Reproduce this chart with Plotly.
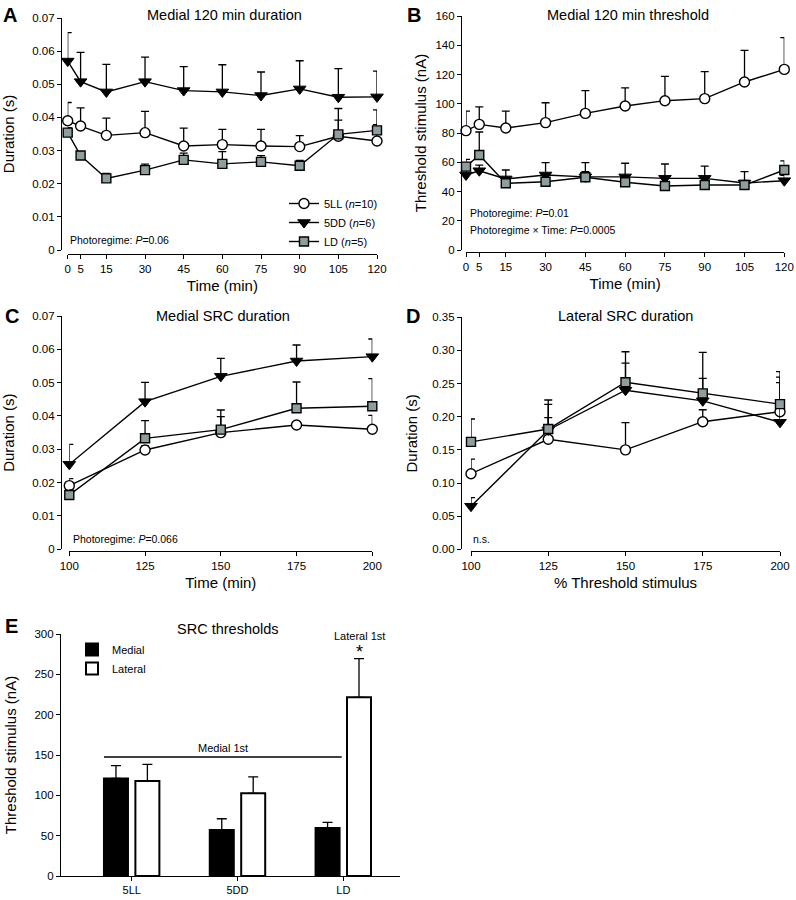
import plotly.graph_objects as go

# ---------------- data ----------------
time_min = [0, 5, 15, 30, 45, 60, 75, 90, 105, 120]
time_ticks = [0, 5, 15, 30, 45, 60, 75, 90, 105, 120]

# A: Medial 120 min duration (s)
a_5LL = [0.0390, 0.0374, 0.0346, 0.0354, 0.0314, 0.0318, 0.0314, 0.0312, 0.0343, 0.0329]
a_5LL_err = [0.0055, 0.0055, 0.0052, 0.0064, 0.0054, 0.0046, 0.0050, 0.0033, 0.0049, 0.0049]
a_5DD = [0.0570, 0.0508, 0.0477, 0.0508, 0.0481, 0.0477, 0.0466, 0.0486, 0.0461, 0.0462]
a_5DD_err = [0.0086, 0.0088, 0.0083, 0.0074, 0.0072, 0.0082, 0.0071, 0.0085, 0.0086, 0.0078]
a_LD = [0.0354, 0.0285, 0.0216, 0.0241, 0.0272, 0.0260, 0.0266, 0.0254, 0.0349, 0.0361]
a_LD_err = [0.0015, 0.0012, 0.0015, 0.0018, 0.0020, 0.0037, 0.0019, 0.0016, 0.0078, 0.0062]

# B: Medial 120 min threshold (nA)
b_5LL = [81.6, 85.9, 83.4, 87.1, 93.4, 98.5, 102.1, 103.5, 114.9, 123.5]
b_5LL_err = [13.4, 11.9, 11.6, 13.6, 15.6, 12.3, 16.6, 18.4, 21.6, 21.7]
b_5DD = [51.3, 54.2, 48.6, 51.3, 50.0, 50.0, 49.0, 49.0, 45.8, 47.4]
b_5DD_err = [3.9, 3.8, 6.1, 8.4, 9.7, 9.3, 9.8, 8.4, 7.8, 3.6]
b_LD = [57.0, 65.0, 45.6, 46.7, 49.7, 46.3, 43.8, 44.4, 44.4, 54.7]
b_LD_err = [5.0, 15.7, 2.4, 2.3, 3.9, 2.7, 2.2, 2.6, 2.6, 6.3]

# C: Medial SRC duration (s)
src_x = [100, 125, 150, 175, 200]
c_5LL = [0.0191, 0.0298, 0.0350, 0.0373, 0.0360]
c_5LL_err = [0.0021, 0.0012, 0.0048, 0.0010, 0.0042]
c_5DD = [0.0255, 0.0443, 0.0519, 0.0565, 0.0578]
c_5DD_err = [0.0060, 0.0058, 0.0054, 0.0048, 0.0053]
c_LD = [0.0163, 0.0333, 0.0359, 0.0423, 0.0429]
c_LD_err = [0.0015, 0.0053, 0.0059, 0.0079, 0.0083]

# D: Lateral SRC duration (s)
d_5LL = [0.114, 0.166, 0.150, 0.1925, 0.2076]
d_5LL_err = [0.022, 0.0325, 0.041, 0.018, 0.052]
d_5DD = [0.065, 0.180, 0.240, 0.224, 0.1916]
d_5DD_err = [0.013, 0.0387, 0.041, 0.034, 0.0597]
d_LD = [0.162, 0.1815, 0.252, 0.2353, 0.219]
d_LD_err = [0.0346, 0.0437, 0.046, 0.0617, 0.049]

# E: SRC thresholds (nA)
groups = ["5LL", "5DD", "LD"]
e_medial = [121.0, 57.0, 59.5]
e_medial_err = [15.8, 14.0, 7.0]
e_lateral = [117.8, 102.5, 221.5]
e_lateral_err = [20.6, 20.5, 48.0]

series_names = ["5LL (<i>n</i>=10)", "5DD (<i>n</i>=6)", "LD (<i>n</i>=5)"]

# ---------------- helpers ----------------
W, H = 796, 900
FONT = "Liberation Sans, Arial, Helvetica, sans-serif"


def fx(p):
    return p / W


def fy(p):
    return 1 - p / H


LD_COLOR = "#8e9e9e"
styles = [
    dict(symbol="circle", size=10, color="white", line=dict(color="black", width=1.4)),
    dict(symbol="triangle-down", size=11, color="black", line=dict(color="black", width=1)),
    dict(symbol="square", size=9, color=LD_COLOR, line=dict(color="black", width=1.4)),
]

fig = go.Figure()


def add_panel(xs, series, errs, xa, ya, legend):
    for i, (ys, es) in enumerate(zip(series, errs)):
        fig.add_trace(go.Scatter(
            x=xs, y=ys, mode="lines+markers",
            name=series_names[i],
            line=dict(color="black", width=1.4),
            marker=styles[i],
            error_y=dict(type="data", array=es, arrayminus=[0] * len(es), symmetric=False,
                         color="black", thickness=1.3, width=4),
            xaxis=xa, yaxis=ya, cliponaxis=False,
            showlegend=legend, legend="legend",
        ))


add_panel(time_min, [a_5LL, a_5DD, a_LD], [a_5LL_err, a_5DD_err, a_LD_err], "x", "y", True)
add_panel(time_min, [b_5LL, b_5DD, b_LD], [b_5LL_err, b_5DD_err, b_LD_err], "x2", "y2", False)
add_panel(src_x, [c_5LL, c_5DD, c_LD], [c_5LL_err, c_5DD_err, c_LD_err], "x3", "y3", False)
add_panel(src_x, [d_5LL, d_5DD, d_LD], [d_5LL_err, d_5DD_err, d_LD_err], "x4", "y4", False)

fig.add_trace(go.Bar(
    x=groups, y=e_medial, name="Medial",
    marker=dict(color="black", line=dict(color="black", width=2)),
    error_y=dict(type="data", array=e_medial_err, arrayminus=[0, 0, 0], symmetric=False,
                 color="black", thickness=1.3, width=5),
    xaxis="x5", yaxis="y5", legend="legend2",
))
fig.add_trace(go.Bar(
    x=groups, y=e_lateral, name="Lateral",
    marker=dict(color="white", line=dict(color="black", width=2)),
    error_y=dict(type="data", array=e_lateral_err, arrayminus=[0, 0, 0], symmetric=False,
                 color="black", thickness=1.3, width=5),
    xaxis="x5", yaxis="y5", legend="legend2",
))

tickfont = dict(family=FONT, size=11.5, color="black")
titlefont = dict(family=FONT, size=15, color="black")


def xax(d0, d1, pos, rng, tickvals, title, standoff=6):
    return dict(domain=[fx(d0), fx(d1)], anchor="free", position=fy(pos), range=rng,
                tickvals=tickvals, showline=True, linecolor="black", linewidth=1.2,
                ticks="outside", ticklen=4, tickwidth=1.2, tickcolor="black",
                showgrid=False, zeroline=False, tickfont=tickfont,
                title=dict(text=title, font=titlefont, standoff=standoff))


def yax(d0, d1, pos, rng, dtick, title, fmt, standoff=12):
    return dict(domain=[fy(d1), fy(d0)], anchor="free", position=fx(pos), range=rng,
                dtick=dtick, tick0=0, tickformat=fmt, showline=True, linecolor="black",
                linewidth=1.2, ticks="outside", ticklen=4, tickwidth=1.2, tickcolor="black",
                showgrid=False, zeroline=False, tickfont=tickfont,
                title=dict(text=title, font=titlefont, standoff=standoff))


layout = dict(
    width=W, height=H, template="none",
    margin=dict(l=0, r=0, t=0, b=0),
    paper_bgcolor="white", plot_bgcolor="rgba(0,0,0,0)",
    font=dict(family=FONT, color="black"),
    bargap=0.406, bargroupgap=0.236, barmode="group",
    xaxis=xax(67.7, 377, 254, [0, 120], time_ticks, "Time (min)"),
    yaxis=yax(18, 250, 61, [0, 0.07], 0.01, "Duration (s)", ".2~f", 12),
    xaxis2=xax(466, 784.3, 252, [0, 120], time_ticks, "Time (min)"),
    yaxis2=yax(16, 250, 461, [0, 160], 20, "Threshold stimulus (nA)", "d", 4),
    xaxis3=xax(69.3, 372.3, 551, [100, 200], src_x, "Time (min)"),
    yaxis3=yax(316, 549.3, 61, [0, 0.07], 0.01, "Duration (s)", ".2~f", 12),
    xaxis4=xax(471, 780, 551, [100, 200], src_x, "% Threshold stimulus"),
    yaxis4=yax(317.3, 549.3, 461, [0, 0.35], 0.05, "Duration (s)", ".2f", 9),
    xaxis5=dict(domain=[fx(61), fx(400)], anchor="y5", range=[-0.668, 2.536],
                showline=True, linecolor="black", linewidth=1.2, ticks="outside",
                ticklen=4, tickwidth=1.2, tickcolor="black", showgrid=False,
                zeroline=False, tickfont=dict(family=FONT, size=11, color="black")),
    yaxis5=dict(domain=[fy(876), fy(634)], anchor="x5", range=[0, 300], dtick=50,
                showline=True, linecolor="black", linewidth=1.2, ticks="outside",
                ticklen=4, tickwidth=1.2, tickcolor="black", showgrid=False,
                zeroline=False, tickfont=tickfont,
                title=dict(text="Threshold stimulus (nA)", font=titlefont, standoff=14)),
    legend=dict(x=fx(284), y=fy(189), xanchor="left", yanchor="top",
                bgcolor="rgba(0,0,0,0)", font=dict(family=FONT, size=11, color="black"),
                tracegroupgap=0),
    legend2=dict(x=fx(72), y=fy(635), xanchor="left", yanchor="top",
                 bgcolor="rgba(0,0,0,0)", font=dict(family=FONT, size=11, color="black")),
)
fig.update_layout(**layout)

annotations = []


def note(text, x, y, size=10.5, xanchor="left", bold=False):
    annotations.append(dict(text=f"<b>{text}</b>" if bold else text,
                            x=fx(x), y=fy(y), xref="paper", yref="paper",
                            xanchor=xanchor, yanchor="middle", showarrow=False,
                            font=dict(family=FONT, size=size, color="black")))


# panel letters
for letter, x, y in [("A", 1, 15), ("B", 405, 15), ("C", 3, 316), ("D", 404, 316), ("E", 3, 626)]:
    note(letter, x, y, size=20, bold=True)

# panel titles
note("Medial 120 min duration", 225, 15, 14.5, "center")
note("Medial 120 min threshold", 628, 15, 14.5, "center")
note("Medial SRC duration", 223, 316, 14.5, "center")
note("Lateral SRC duration", 625, 316, 14.5, "center")
note("SRC thresholds", 228, 629, 14.5, "center")

# statistics
note("Photoregime: <i>P</i>=0.06", 68, 240)
note("Photoregime: <i>P</i>=0.01", 468, 213)
note("Photoregime × Time: <i>P</i>=0.0005", 468, 230)
note("Photoregime: <i>P</i>=0.066", 71, 539)
note("n.s.", 471, 539)
note("Medial 1st", 223, 748, 11, "center")
note("Lateral 1st", 359, 636, 11, "center")
note("*", 359, 652, 18, "center")

fig.update_layout(annotations=annotations)

fig.add_shape(type="line", xref="x5", yref="y5", x0=-0.262, x1=1.985, y0=147.5, y1=147.5,
              line=dict(color="black", width=1.3))

fig.write_html("out.html", config={"displayModeBar": False},
               post_script="document.body.style.margin='0px';document.body.style.overflow='hidden';")
